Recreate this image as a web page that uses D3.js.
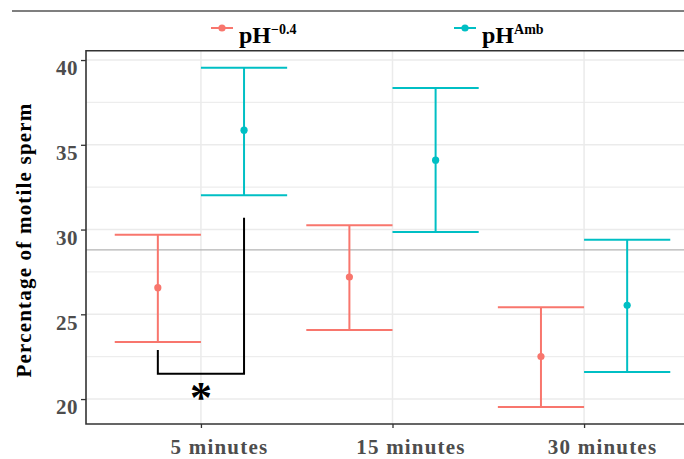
<!DOCTYPE html>
<html lang="en">
	<head>
		<meta charset="utf-8">
		<title>Percentage of motile sperm</title>
		<script type="text/javascript" src="https://d3js.org/d3.v7.min.js"></script>
		<style type="text/css">
			body { margin: 0; background: #fff; }
			text { font-family: "Liberation Serif", "Times New Roman", serif; }
		</style>
	</head>
	<body>
		<script type="text/javascript">

			//Data
			var times = ["5 minutes", "15 minutes", "30 minutes"];
			var groups = ["pH-0.4", "pHAmb"];
			var meanLow = [26.57, 27.2, 22.51];
			var lowerLow = [23.37, 24.08, 19.53];
			var upperLow = [29.69, 30.26, 25.41];
			var meanAmb = [35.86, 34.09, 25.53];
			var lowerAmb = [32.03, 29.85, 21.59];
			var upperAmb = [39.55, 38.35, 29.4];
			var yTicks = [20, 25, 30, 35, 40];
			var refLine = 28.8;
			//significance bracket: [start on left, bottom, top on right], star position
			var bracket = [22.9, 21.5, 30.7];
			var starY = 20.4;

			var colors = ["#F8766D", "#00BFC4"];

			//Width and height
			var w = 684;
			var h = 459;
			var panelL = 86, panelT = 50.7, panelB = 424, panelR = 699;

			var rows = [];
			times.forEach(function (t, i) {
				rows.push({ time: t, group: 0, mean: meanLow[i], lo: lowerLow[i], hi: upperLow[i] });
				rows.push({ time: t, group: 1, mean: meanAmb[i], lo: lowerAmb[i], hi: upperAmb[i] });
			});

			var yMin = d3.min(rows, function (d) { return d.lo; });
			var yMax = d3.max(rows, function (d) { return d.hi; });
			var pad = (yMax - yMin) * 0.05;

			var x = d3.scalePoint().domain(times).range([panelL, panelR]).padding(0.6);
			var dodge = x.step() * 0.225;
			var capHalf = x.step() * 0.225;
			var y = d3.scaleLinear().domain([yMin - pad, yMax + pad]).range([panelB, panelT]);

			function gx(d) { return x(d.time) + (d.group === 0 ? -dodge : dodge); }

			var svg = d3.select("body")
						.append("svg")
						.attr("width", w)
						.attr("height", h);

			//separator line on top
			svg.append("line")
			   .attr("x1", 12).attr("x2", w)
			   .attr("y1", 11).attr("y2", 11)
			   .style("stroke", "#555").style("stroke-width", 1.5);

			//grid
			var minor = d3.range(22.5, 40, 5);
			svg.selectAll(".minor")
			   .data(minor).enter().append("line")
			   .attr("x1", panelL).attr("x2", w)
			   .attr("y1", function (d) { return y(d); })
			   .attr("y2", function (d) { return y(d); })
			   .style("stroke", "#ededed").style("stroke-width", 1.2);
			svg.selectAll(".major")
			   .data(yTicks).enter().append("line")
			   .attr("x1", panelL).attr("x2", w)
			   .attr("y1", function (d) { return y(d); })
			   .attr("y2", function (d) { return y(d); })
			   .style("stroke", "#ebebeb").style("stroke-width", 1.5);
			svg.selectAll(".vgrid")
			   .data(times).enter().append("line")
			   .attr("x1", function (d) { return x(d); })
			   .attr("x2", function (d) { return x(d); })
			   .attr("y1", panelT).attr("y2", panelB)
			   .style("stroke", "#ebebeb").style("stroke-width", 1.5);

			//reference line
			svg.append("line")
			   .attr("x1", panelL).attr("x2", w)
			   .attr("y1", y(refLine)).attr("y2", y(refLine))
			   .style("stroke", "#b3b3b3").style("stroke-width", 1.3);

			//error bars
			var bars = svg.selectAll(".bar")
						  .data(rows).enter().append("g")
						  .style("stroke", function (d) { return colors[d.group]; })
						  .style("stroke-width", 2);
			bars.append("line")
				.attr("x1", gx).attr("x2", gx)
				.attr("y1", function (d) { return y(d.lo); })
				.attr("y2", function (d) { return y(d.hi); });
			bars.append("line")
				.attr("x1", function (d) { return gx(d) - capHalf; })
				.attr("x2", function (d) { return gx(d) + capHalf; })
				.attr("y1", function (d) { return y(d.hi); })
				.attr("y2", function (d) { return y(d.hi); });
			bars.append("line")
				.attr("x1", function (d) { return gx(d) - capHalf; })
				.attr("x2", function (d) { return gx(d) + capHalf; })
				.attr("y1", function (d) { return y(d.lo); })
				.attr("y2", function (d) { return y(d.lo); });
			svg.selectAll(".pt")
			   .data(rows).enter().append("circle")
			   .attr("cx", gx)
			   .attr("cy", function (d) { return y(d.mean); })
			   .attr("r", 3.6)
			   .style("fill", function (d) { return colors[d.group]; });

			//significance bracket
			var bx0 = x(times[0]) - dodge, bx1 = x(times[0]) + dodge;
			svg.append("path")
			   .attr("d", "M" + bx0 + "," + y(bracket[0]) +
						  "V" + y(bracket[1]) +
						  "H" + bx1 +
						  "V" + y(bracket[2]))
			   .style("fill", "none").style("stroke", "#000").style("stroke-width", 2);
			svg.append("text")
			   .attr("x", x(times[0]))
			   .attr("y", y(starY) + 20)
			   .attr("text-anchor", "middle")
			   .style("font-size", "44px").style("font-weight", "bold")
			   .text("*");

			//axes
			var yAxis = d3.axisLeft(y).tickValues(yTicks).tickSize(5).tickPadding(3);
			var gy = svg.append("g").attr("transform", "translate(" + panelL + ",0)").call(yAxis);
			gy.select(".domain").remove();
			gy.selectAll("line").style("stroke", "#333").style("stroke-width", 1.3);
			gy.selectAll("text")
			  .attr("dy", "0.7em")
			  .style("font-size", "21px").style("font-weight", "bold")
			  .style("fill", "#4d4d4d")
			  .style("font-family", "'Liberation Serif', serif")
			  .style("letter-spacing", "0.5px");

			var xAxis = d3.axisBottom(x).tickSize(4).tickPadding(8);
			var gxa = svg.append("g").attr("transform", "translate(0," + panelB + ")").call(xAxis);
			gxa.select(".domain").remove();
			gxa.selectAll("line").style("stroke", "#333").style("stroke-width", 1.3);
			gxa.selectAll("text")
			   .attr("dx", 18)
			   .attr("dy", "0.85em")
			   .style("font-size", "21px").style("font-weight", "bold")
			   .style("fill", "#4d4d4d")
			   .style("font-family", "'Liberation Serif', serif")
			   .style("letter-spacing", "1.2px");

			//panel border (left, top, bottom)
			svg.append("path")
			   .attr("d", "M" + w + "," + panelT + "H" + panelL + "V" + panelB + "H" + w)
			   .style("fill", "none").style("stroke", "#333").style("stroke-width", 1.6);

			//y title
			svg.append("text")
			   .attr("transform", "translate(31,240) rotate(-90)")
			   .attr("text-anchor", "middle")
			   .style("font-size", "21px").style("font-weight", "bold")
			   .style("letter-spacing", "1.2px")
			   .text("Percentage of motile sperm");

			//legend
			var legendX = [211, 454];
			var legendSup = ["\u22120.4", "Amb"];
			var lg = svg.selectAll(".legend")
						.data(groups).enter().append("g")
						.attr("transform", function (d, i) { return "translate(" + legendX[i] + ",28)"; });
			lg.append("line")
			  .attr("x1", 0).attr("x2", 22)
			  .style("stroke", function (d, i) { return colors[i]; })
			  .style("stroke-width", 2);
			lg.append("circle")
			  .attr("cx", 11).attr("r", 3.6)
			  .style("fill", function (d, i) { return colors[i]; });
			var lt = lg.append("text")
					   .attr("x", 28).attr("y", 15)
					   .style("font-size", "24px").style("font-weight", "bold");
			lt.append("tspan").text("pH");
			lt.append("tspan")
			  .attr("dy", -9)
			  .style("font-size", "14px")
			  .text(function (d, i) { return legendSup[i]; });

		</script>
	</body>
</html>
